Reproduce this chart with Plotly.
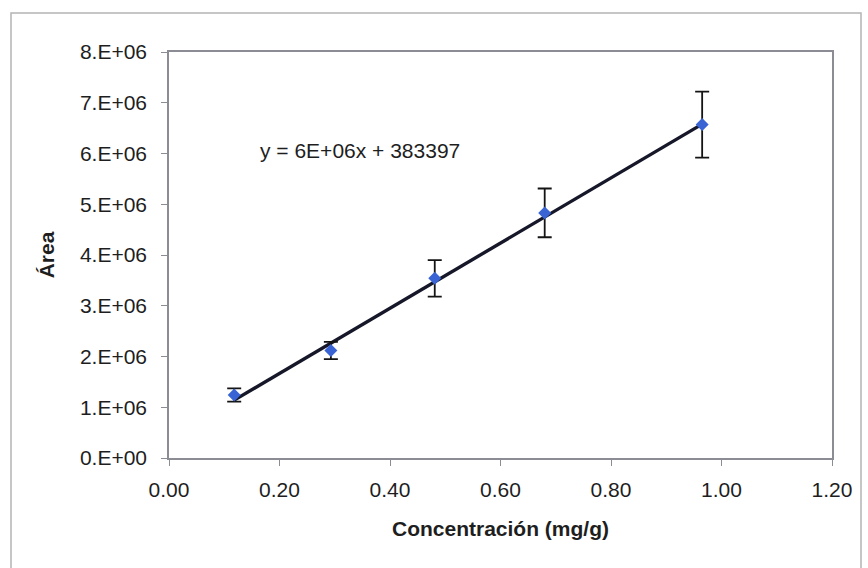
import numpy as np
import plotly.graph_objects as go

# Data
concentration = [0.118, 0.293, 0.481, 0.680, 0.965]          # mg/g
area = [1.24e6, 2.12e6, 3.54e6, 4.83e6, 6.57e6]
area_err = [0.13e6, 0.17e6, 0.36e6, 0.48e6, 0.65e6]

trend_slope = 6.42e6
trend_intercept = 383397
equation_text = "y = 6E+06x + 383397"

x_ticks = [0.0, 0.2, 0.4, 0.6, 0.8, 1.0, 1.2]
x_ticktext = ["0.00", "0.20", "0.40", "0.60", "0.80", "1.00", "1.20"]
y_ticks = [i * 1e6 for i in range(9)]
y_ticktext = ["0.E+00"] + [f"{i}.E+06" for i in range(1, 9)]

FONT = "Liberation Sans, Arial, sans-serif"
TXT = "#1e1e1e"

fig = go.Figure()

# trend line
tx = np.array([min(concentration), max(concentration)])
ty = trend_slope * tx + trend_intercept
fig.add_trace(go.Scatter(
    x=tx, y=ty, mode="lines",
    line=dict(color="#16182a", width=3.4),
    showlegend=False, hoverinfo="skip",
))

# data points with error bars
fig.add_trace(go.Scatter(
    x=concentration, y=area, mode="markers",
    marker=dict(symbol="diamond", size=10, color="#3a64d4",
                line=dict(width=0)),
    error_y=dict(type="data", array=area_err, visible=True,
                 color="#141414", thickness=1.8, width=7),
    showlegend=False,
))

fig.add_annotation(
    x=0.161, y=6.05e6, xref="x", yref="y",
    text=equation_text, showarrow=False, xanchor="left", yanchor="middle",
    font=dict(family=FONT, size=21, color=TXT),
)

# outer chart border
L, R, T, B = 169, 832, 52, 458
W, H = R - L, B - T
def px(xp):
    return (xp - L) / W
def py(yp):
    return (B - yp) / H

fig.add_shape(type="rect", xref="paper", yref="paper",
              x0=px(11), x1=px(861), y0=py(575), y1=py(13),
              line=dict(color="#b4b4b4", width=1.5), layer="below")

fig.update_layout(
    width=868, height=568,
    margin=dict(l=L, r=868 - R, t=T, b=568 - B),
    paper_bgcolor="white", plot_bgcolor="white",
    font=dict(family=FONT, size=21, color=TXT),
)

fig.update_xaxes(
    range=[0, 1.2], tickmode="array", tickvals=x_ticks, ticktext=x_ticktext,
    showgrid=False, zeroline=False,
    showline=True, linecolor="#8c8c94", linewidth=1.5, mirror=True,
    ticks="outside", ticklen=6, tickcolor="#8c8c94", tickwidth=1,
    ticklabelstandoff=6,
    tickfont=dict(size=21, color=TXT),
    title=dict(text="<b>Concentración (mg/g)</b>", font=dict(size=21, color=TXT), standoff=21),
)
fig.update_yaxes(
    range=[0, 8e6], tickmode="array", tickvals=y_ticks, ticktext=y_ticktext,
    showgrid=False, zeroline=False,
    showline=True, linecolor="#8c8c94", linewidth=1.5, mirror=True,
    ticks="outside", ticklen=6, tickcolor="#8c8c94", tickwidth=1,
    ticklabelstandoff=10,
    tickfont=dict(size=21, color=TXT),
    title=dict(text="<b>Área</b>", font=dict(size=21, color=TXT), standoff=20),
)

fig.write_html("out.html")
